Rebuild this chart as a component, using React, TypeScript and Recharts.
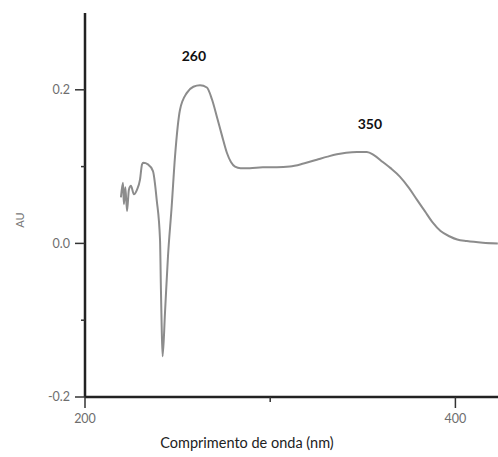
import { LineChart, Line, XAxis, YAxis, ReferenceDot } from 'recharts'

// Wavelength (nm) and absorbance (AU)
const WAVELENGTH = [
  219.4, 220.5, 221.0, 221.8, 222.7, 223.7, 224.8, 226.4, 228.1, 229.7,
  230.8, 231.5, 234.0, 236.7, 238.7, 240.5, 241.0, 241.4, 241.9, 243.2,
  244.8, 246.8, 248.6, 251.3, 255.0, 258.5, 262.1, 265.8, 268.5, 271.2,
  274.0, 276.6, 278.8, 281.0, 284.0, 289.0, 296.0, 303.6, 310.6, 318.0,
  325.2, 331.0, 336.0, 341.0, 346.8, 352.2, 356.0, 360.8, 365.0, 370.0,
  375.0, 379.2, 383.5, 387.8, 392.0, 397.0, 401.0, 406.2, 414.8, 422.9,
]
const ABSORBANCE = [
  0.060, 0.079, 0.051, 0.073, 0.042, 0.070, 0.075, 0.064, 0.070, 0.083,
  0.103, 0.105, 0.103, 0.094, 0.057, 0.005, -0.060, -0.108, -0.147, -0.090,
  -0.017, 0.048, 0.113, 0.174, 0.196, 0.204, 0.206, 0.203, 0.188, 0.165,
  0.140, 0.118, 0.106, 0.100, 0.098, 0.098, 0.099, 0.099, 0.100, 0.104,
  0.109, 0.113, 0.116, 0.118, 0.119, 0.119, 0.115, 0.106, 0.098, 0.087,
  0.072, 0.057, 0.042, 0.027, 0.016, 0.009, 0.005, 0.003, 0.001, 0.000,
]
const X_TICKS = [200, 300, 400]
const Y_TICKS = [-0.2, -0.1, 0, 0.1, 0.2]
const PEAKS = [
  { label: '260', nm: 258.8, au: 0.2435 },
  { label: '350', nm: 353.8, au: 0.155 },
]

const data = WAVELENGTH.map((nm, i) => ({ nm, au: ABSORBANCE[i] }))
const FONT = 'Lato, "Open Sans", sans-serif'

function YTick({ x, y, payload }: any) {
  const major = Math.abs(Math.round(payload.value * 10)) % 2 === 0
  return (
    <g>
      <line x1={x - (major ? 10 : 4)} x2={x} y1={y} y2={y} stroke="#333" strokeWidth={1.5} />
      {major && (
        <text x={x - 15} y={y} dy="0.35em" textAnchor="end" fontSize={12.5} fill="#6e6e6e" fontFamily={FONT}>
          {payload.value.toFixed(1)}
        </text>
      )}
    </g>
  )
}

function XTick({ x, y, payload }: any) {
  const major = payload.value !== 300
  return (
    <g>
      <line x1={x} x2={x} y1={y} y2={y + (major ? 11 : 5)} stroke="#333" strokeWidth={1.5} />
      {major && (
        <text x={x} y={y + 26} textAnchor="middle" fontSize={12.5} fill="#6e6e6e" fontFamily={FONT}>
          {payload.value}
        </text>
      )}
    </g>
  )
}

export default function App() {
  return (
    <div style={{ position: 'absolute', left: 0, top: 0, background: '#fff' }}>
      <LineChart width={498} height={457} data={data} margin={{ top: 13, right: 0, bottom: 0, left: 0 }}>
        <XAxis
          dataKey="nm" type="number" domain={[200, 423]} ticks={X_TICKS} allowDataOverflow
          height={60} tickSize={0} tickMargin={0} tick={<XTick />} tickLine={false}
          axisLine={{ stroke: '#222', strokeWidth: 2.5 }}
          label={{
            content: () => (
              <text x={247} y={448} textAnchor="middle" fontSize={14.5} fill="#222" fontFamily={FONT}>
                Comprimento de onda (nm)
              </text>
            ),
          }}
        />
        <YAxis
          type="number" domain={[-0.2, 0.3]} ticks={Y_TICKS} allowDataOverflow
          width={85} tickSize={0} tickMargin={0} tick={<YTick />} tickLine={false}
          axisLine={{ stroke: '#222', strokeWidth: 2.5 }}
          label={{
            content: () => (
              <text x={24} y={220} textAnchor="middle" fontSize={11} fill="#777" fontFamily={FONT}
                transform="rotate(-90 24 220)">
                AU
              </text>
            ),
          }}
        />
        <Line
          type="monotone" dataKey="au" stroke="#8c8c8c" strokeWidth={2}
          dot={false} isAnimationActive={false}
        />
        {PEAKS.map(p => (
          <ReferenceDot
            key={p.label} x={p.nm} y={p.au} r={0} stroke="none" fill="none"
            label={{ value: p.label, position: 'center', fontSize: 14, fontWeight: 700, fill: '#111', fontFamily: FONT }}
          />
        ))}
      </LineChart>
    </div>
  )
}
